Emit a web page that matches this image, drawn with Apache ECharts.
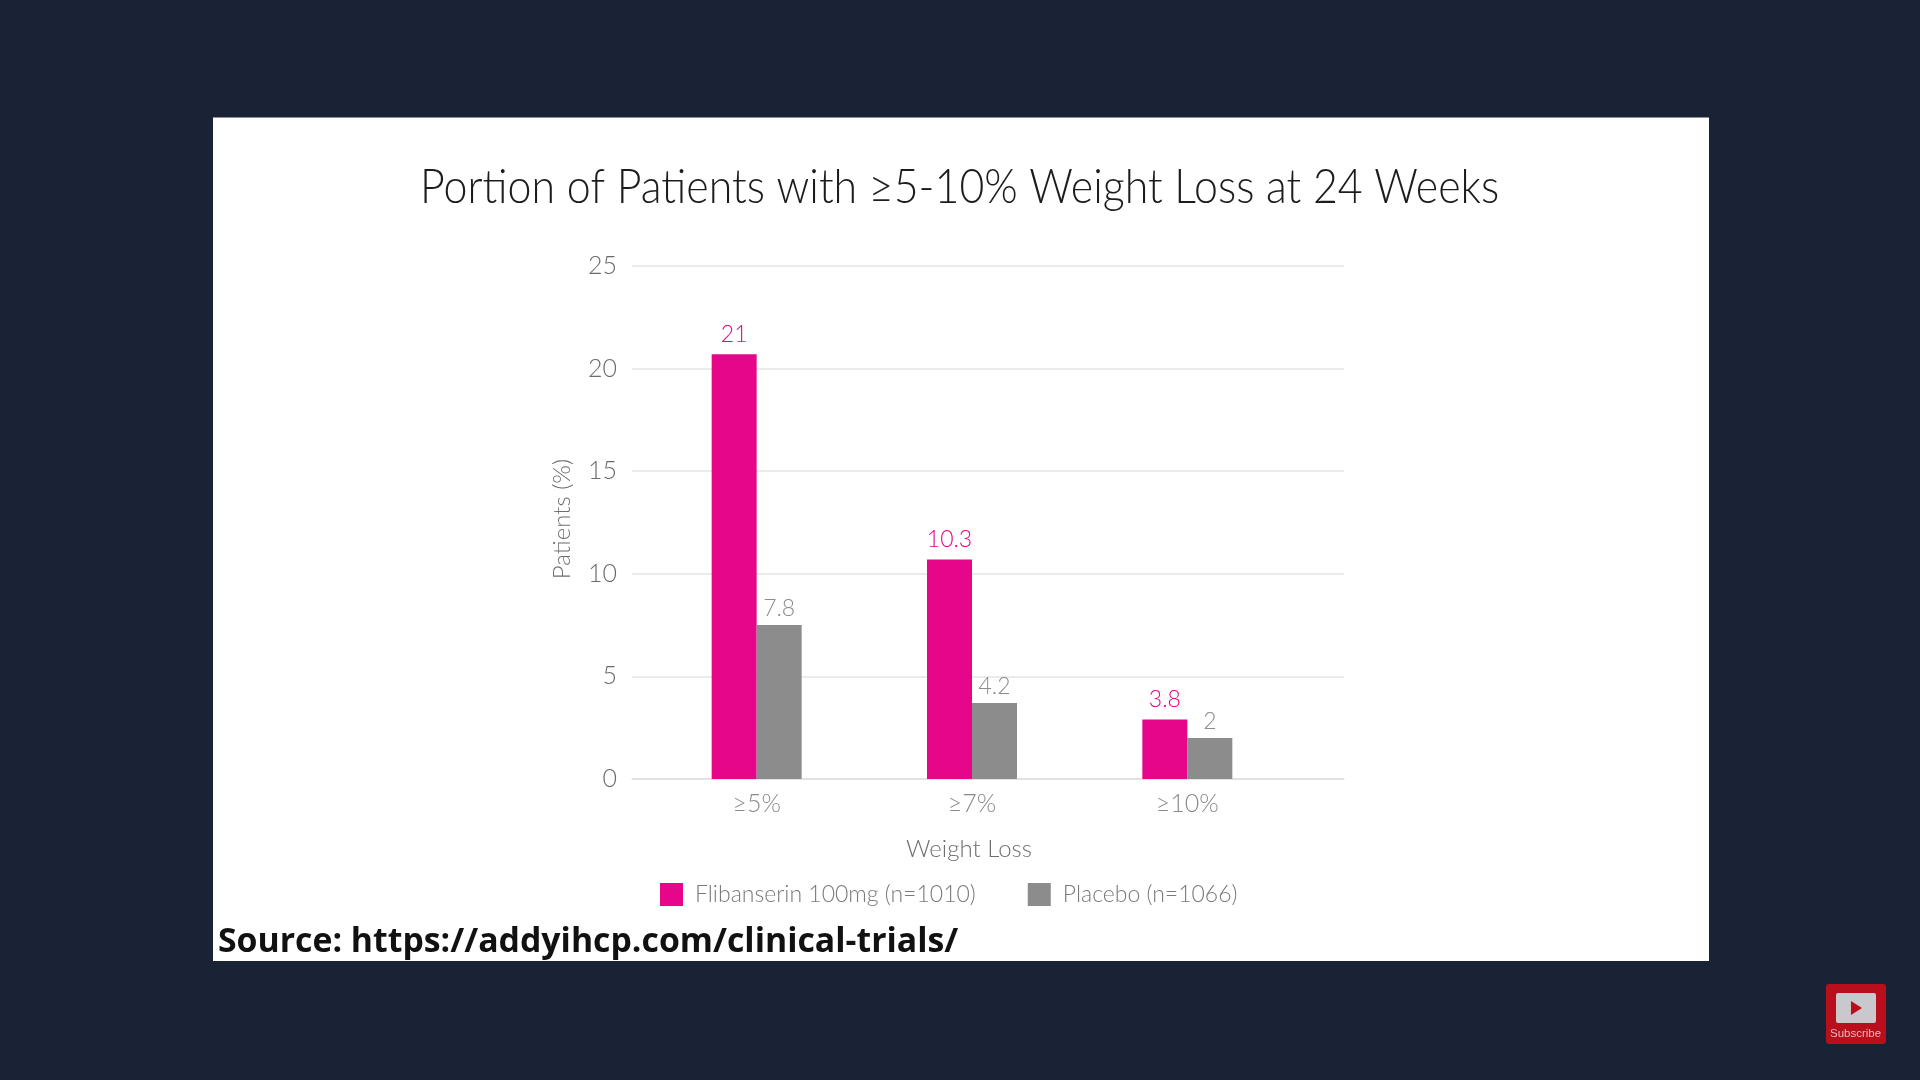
<!DOCTYPE html>
<html><head><meta charset="utf-8">
<style>html,body{margin:0;padding:0;background:#1a2236}#c{width:1920px;height:1080px}</style>
<script src="https://cdn.jsdelivr.net/npm/echarts@6/dist/echarts.min.js"></script>
</head><body><div id="c"></div>
<script>
const titleText = 'Portion of Patients with ≥5-10% Weight Loss at 24 Weeks';
const sourceText = 'Source: https://addyihcp.com/clinical-trials/';
const categories = ['≥5%', '≥7%', '≥10%'];
const seriesNames = ['Flibanserin 100mg (n=1010)', 'Placebo (n=1066)'];
const flibanserinHeights = [20.7, 10.7, 2.9];
const placeboHeights = [7.5, 3.7, 2.0];
const flibanserinLabels = ['21', '10.3', '3.8'];
const placeboLabels = ['7.8', '4.2', '2'];
const yMax = 25, yStep = 5;
const thin = 'Lato';
const pink = '#e5068a', gray = '#8c8c8c';

const chart = echarts.init(document.getElementById('c'), null, {renderer:'canvas'});
function bar(name, data, labels, color, dist){
  return {
    name, type:'bar', data, xAxisIndex:1, yAxisIndex:1, barWidth:45, barGap:0,
    itemStyle:{color},
    label:{show:true, position:'top', distance:dist, color, fontFamily:thin, fontWeight:300, fontSize:23,
      formatter:p=>labels[p.dataIndex]}
  };
}
chart.setOption({
  backgroundColor:'#1a2236',
  animation:false,
  legend:{left:655, top:878, itemWidth:23, itemHeight:23, itemGap:52, icon:'rect',
    textStyle:{fontFamily:thin, fontWeight:300, fontSize:23, color:'#7a7a7a', padding:[0,0,0,7]}, data:seriesNames},
  grid:[
    {left:632, right:1920-1344, top:266, bottom:1080-779},
    {left:649, width:646, top:266, bottom:1080-779}
  ],
  xAxis:[
    {gridIndex:0, type:'value', min:0, max:1, axisLabel:{show:false}, axisTick:{show:false}, splitLine:{show:false},
     axisLine:{show:true, lineStyle:{color:'#e0e0e0', width:1.5}}},
    {gridIndex:1, type:'category', data:categories, axisLine:{show:false}, axisTick:{show:false},
     axisLabel:{color:'#8a8a8a', fontFamily:thin, fontWeight:300, fontSize:25, margin:12},
     name:'Weight Loss', nameLocation:'center', nameGap:58,
     nameTextStyle:{color:'#6e6e6e', fontFamily:thin, fontWeight:300, fontSize:24, padding:[0,6,0,0]}}
  ],
  yAxis:[
    {gridIndex:0, type:'value', min:0, max:yMax, interval:yStep, axisLine:{show:false}, axisTick:{show:false},
     axisLabel:{color:'#6b6b6b', fontFamily:thin, fontWeight:300, fontSize:25, margin:15, padding:[0,0,4,0]},
     splitLine:{lineStyle:{color:'#e4e4e4', width:1.5}},
     name:'Patients (%)', nameLocation:'center', nameGap:58, nameRotate:90,
     nameTextStyle:{color:'#6e6e6e', fontFamily:thin, fontWeight:300, fontSize:24, padding:[0,0,0,7]}},
    {gridIndex:1, type:'value', min:0, max:yMax, interval:yStep, show:false}
  ],
  series:[
    bar(seriesNames[0], flibanserinHeights, flibanserinLabels, pink, 8),
    bar(seriesNames[1], placeboHeights, placeboLabels, gray, 5)
  ],
  graphic:[
    {type:'rect', z:-10, shape:{x:213, y:117.5, width:1496, height:843.5}, style:{fill:'#ffffff'}, silent:true},
    {type:'text', z:10, x:420, y:188, scaleX:0.894, style:{text:titleText, x:0, y:0, verticalAlign:'middle', fill:'#1c1c1c', fontFamily:thin, fontWeight:300, fontSize:48}, silent:true},
    {type:'text', z:10, left:218, top:925, style:{text:sourceText, fill:'#111111', font:'bold 33.8px "Open Sans"'}, silent:true},
    {type:'rect', z:10, shape:{x:1826, y:984, width:60, height:60, r:3}, style:{fill:'#b90f1c'}, silent:true},
    {type:'rect', z:11, shape:{x:1836, y:993, width:40, height:30, r:2}, style:{fill:'#c9c9cd'}, silent:true},
    {type:'polygon', z:12, shape:{points:[[1851,1001],[1862,1008],[1851,1015]]}, style:{fill:'#b90f1c'}, silent:true},
    {type:'text', z:12, left:1830, top:1028, style:{text:'Subscribe', fill:'#eeb6bd', font:'11.5px "Liberation Sans"'}, silent:true}
  ]
});
</script></body></html>
